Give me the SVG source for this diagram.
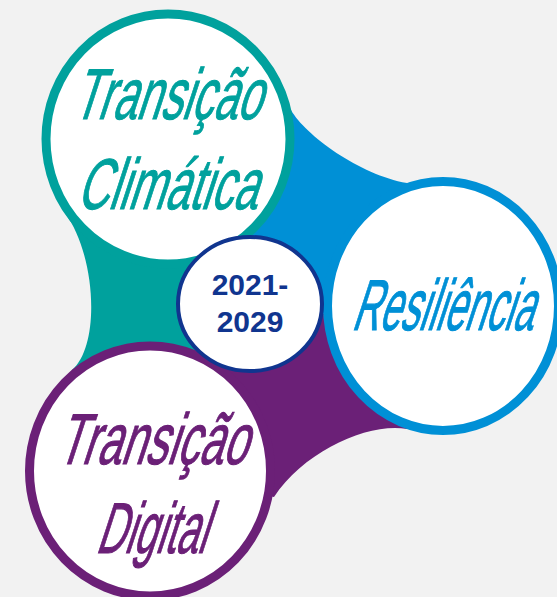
<svg xmlns="http://www.w3.org/2000/svg" width="557" height="597" viewBox="0 0 557 597">
<style>
.ring{fill:#ffffff;stroke-width:9}
.title{font-family:"Liberation Sans","Arial",sans-serif;font-size:40px;font-style:normal;stroke-width:0.6}
.year{font-family:"Liberation Sans","Arial",sans-serif;font-size:30px;font-weight:bold;fill:#10358f;text-anchor:middle}
</style>
<rect x="0" y="0" width="557" height="597" fill="#f2f2f2"/>
<g id="connectors">
<path id="conn-blue" fill="#0090d6" d="M250,304 L168,139 L291,110 C305,135 360,175 407,183 L443,306 L443,330 Z"/>
<path id="conn-teal" fill="#00a19d" d="M250,304 L168,139 L65,213 C96,255 101,345 72,370 L150,471 Z"/>
<path id="conn-purple" fill="#6b2077" d="M250,304 L150,471 L274,497 C305,450 370,422 407,429 L443,330 Z"/>
</g>
<g id="node-climatica">
<ellipse class="ring" cx="168" cy="139" rx="122" ry="125" stroke="#00a19d"/>
<text class="title" fill="#00a19d" stroke="#00a19d" transform="translate(72,119) skewX(-18) scale(1,1.8)" textLength="188" lengthAdjust="spacingAndGlyphs">Transição</text>
<text class="title" fill="#00a19d" stroke="#00a19d" transform="translate(76,209) skewX(-18) scale(1,1.8)" textLength="180" lengthAdjust="spacingAndGlyphs">Climática</text>
</g>
<g id="node-resiliencia">
<ellipse class="ring" cx="443" cy="306" rx="115.5" ry="124.5" stroke="#0090d6"/>
<text class="title" fill="#0090d6" stroke="#0090d6" transform="translate(351,330) skewX(-18) scale(1,1.8)" textLength="181" lengthAdjust="spacingAndGlyphs">Resiliência</text>
</g>
<g id="node-digital">
<ellipse class="ring" cx="150" cy="471" rx="120.5" ry="125" stroke="#6b2077"/>
<text class="title" fill="#6b2077" stroke="#6b2077" transform="translate(56,464) skewX(-18) scale(1,1.8)" textLength="190" lengthAdjust="spacingAndGlyphs">Transição</text>
<text class="title" fill="#6b2077" stroke="#6b2077" transform="translate(95,553) skewX(-18) scale(1,1.8)" textLength="110" lengthAdjust="spacingAndGlyphs">Digital</text>
</g>
<g id="node-years">
<ellipse cx="250" cy="304" rx="72" ry="67" fill="#ffffff" stroke="#10358f" stroke-width="4"/>
<text class="year" x="250" y="295">2021-</text>
<text class="year" x="250" y="332">2029</text>
</g>
</svg>
